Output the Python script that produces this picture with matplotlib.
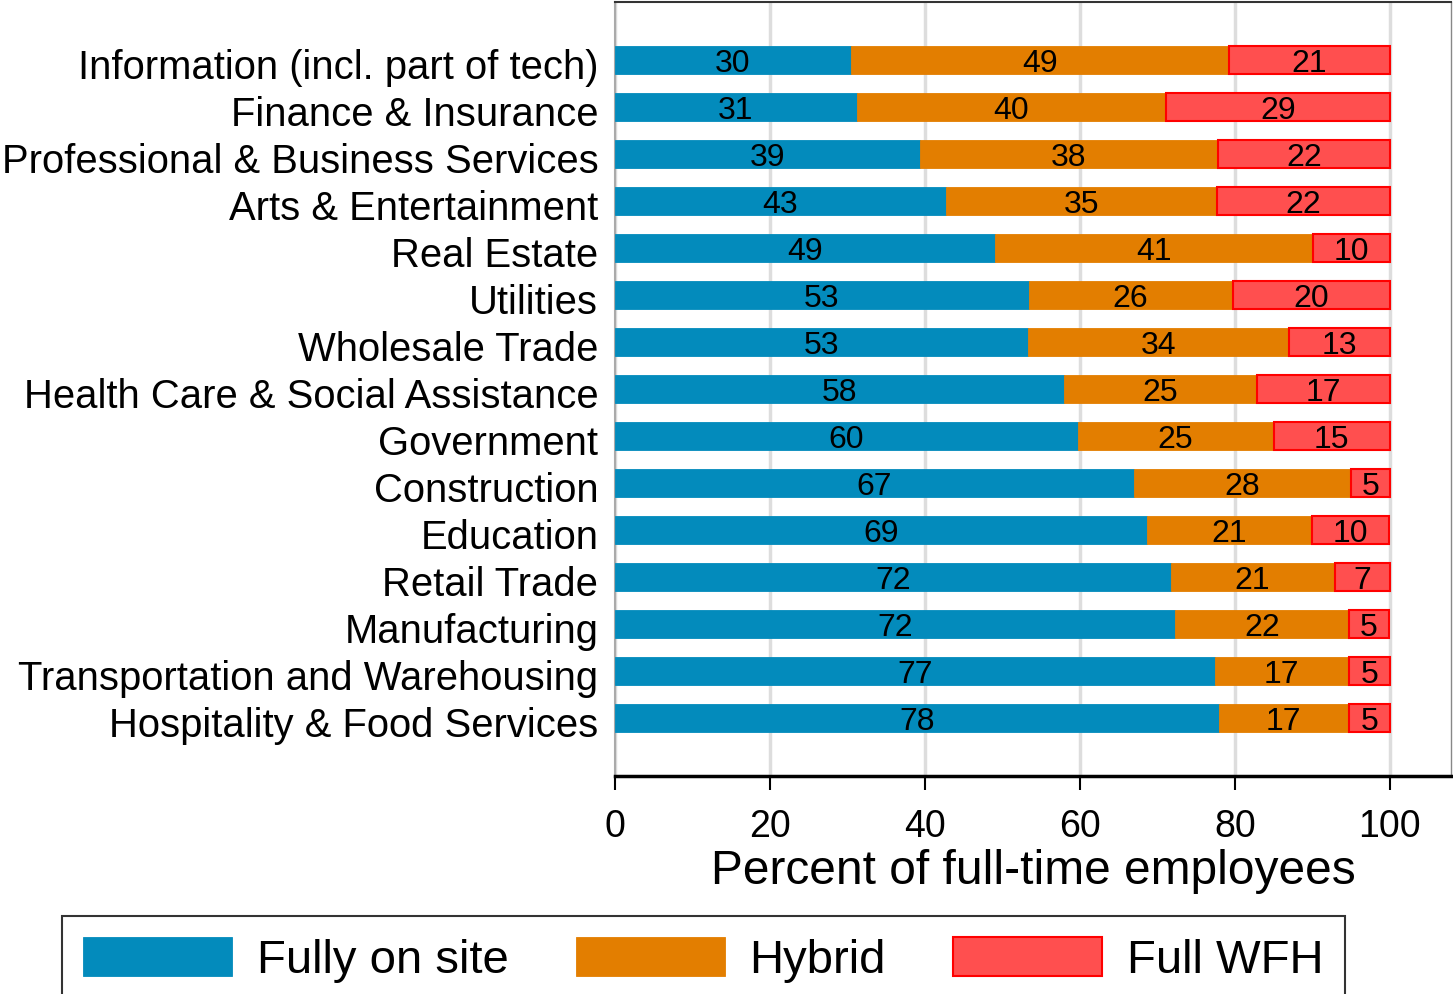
import matplotlib

matplotlib.use("Agg")
import matplotlib.pyplot as plt  # noqa: E402

plt.rcParams["font.family"] = ["Liberation Sans", "DejaVu Sans"]

industries = [
    "Information (incl. part of tech)",
    "Finance & Insurance",
    "Professional & Business Services",
    "Arts & Entertainment",
    "Real Estate",
    "Utilities",
    "Wholesale Trade",
    "Health Care & Social Assistance",
    "Government",
    "Construction",
    "Education",
    "Retail Trade",
    "Manufacturing",
    "Transportation and Warehousing",
    "Hospitality & Food Services",
]
on_site = [30.4, 31.2, 39.4, 42.7, 49.0, 53.4, 53.3, 57.9, 59.7, 67.0, 68.6, 71.7, 72.3, 77.4, 77.9]
hybrid = [48.9, 39.9, 38.4, 35.0, 41.1, 26.3, 33.7, 24.9, 25.3, 28.0, 21.4, 21.2, 22.4, 17.3, 16.8]
full_wfh = [20.7, 28.9, 22.2, 22.3, 9.9, 20.3, 13.0, 17.2, 15.0, 5.0, 9.9, 7.1, 5.2, 5.3, 5.3]

series = [
    ("Fully on site", on_site, "#038bbc", "#038bbc"),
    ("Hybrid", hybrid, "#e37e00", "#e37e00"),
    ("Full WFH", full_wfh, "#ff4f4f", "#ff0000"),
]

fig = plt.figure(figsize=(14.53, 9.94), dpi=100)
ax = fig.add_axes([615 / 1453, 1 - 776 / 994, (1451 - 615) / 1453, (776 - 2) / 994])

ypos = list(range(len(industries)))
left = [0.0] * len(industries)
handles = []
for name, vals, face, edge in series:
    bars = ax.barh(ypos, vals, left=left, height=0.6, color=face, edgecolor=edge,
                   linewidth=1.5 if name == "Full WFH" else 0.6, label=name, zorder=3)
    handles.append(bars)
    for y, l, v in zip(ypos, left, vals):
        ax.text(l + v / 2, y + 0.08, f"{v:.0f}", ha="center", va="center",
                fontsize=23, zorder=4)
    left = [a + b for a, b in zip(left, vals)]

ax.set_xlim(0, 107.9)
ax.set_ylim(15.234, -1.234)
# labels sit a few pixels below the bar centres in the original (ticks are hidden)
ax.set_yticks([y + 0.08 for y in ypos])
ax.set_yticklabels(industries, fontsize=28.8)
ax.tick_params(axis="y", length=0, pad=12)
ax.set_xticks([0, 20, 40, 60, 80, 100])
ax.tick_params(axis="x", direction="out", length=10, width=1.5, labelsize=27, pad=14)
ax.xaxis.grid(True, color="#dddddd", lw=2.5, zorder=0)
ax.set_axisbelow(True)
ax.set_xlabel("Percent of full-time employees", fontsize=34.5, labelpad=3)

ax.spines["bottom"].set_linewidth(2.5)
ax.spines["bottom"].set_color("black")
ax.spines["top"].set_color("#333333")
ax.spines["top"].set_linewidth(1.5)
ax.spines["left"].set_color("#aaaaaa")
ax.spines["left"].set_linewidth(1.5)
ax.spines["right"].set_color("#888888")
ax.spines["right"].set_linewidth(1)

leg = fig.legend(handles=handles, loc="upper left", bbox_to_anchor=(62 / 1453, 1 - 916 / 994),
                 ncol=3, fontsize=34, frameon=True, fancybox=False, edgecolor="black",
                 handlelength=3.15, handleheight=0.9, handletextpad=0.53, columnspacing=1.42,
                 borderpad=0.45, borderaxespad=0)
leg.get_frame().set_linewidth(1.5)

fig.savefig("out.png", dpi=100)
